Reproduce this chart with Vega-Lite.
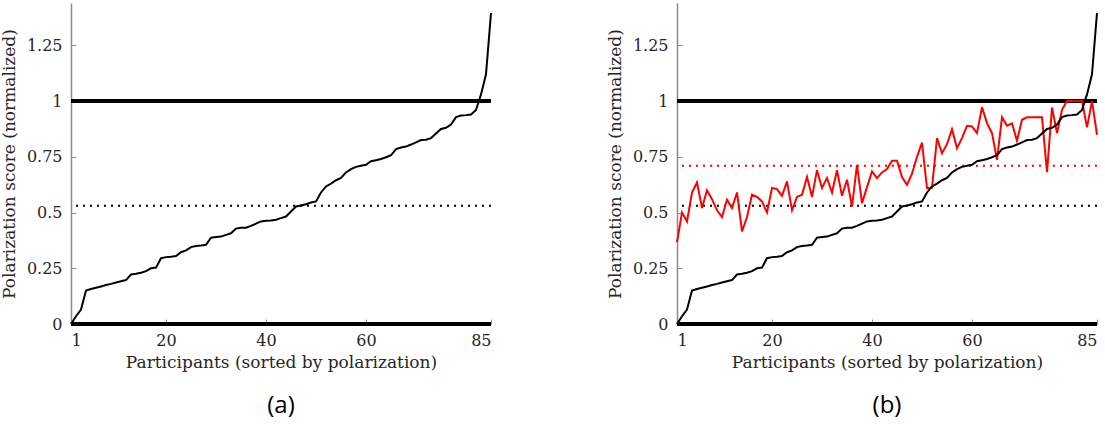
{
  "$schema": "https://vega.github.io/schema/vega-lite/v6.json",
  "padding": {"left": 0, "top": 3, "right": 5, "bottom": 4},
  "background": "white",
  "bounds": "flush",
  "spacing": 186,
  "datasets": {
    "black": [
      {"p":1,"v":0},{"p":2,"v":0.035},{"p":3,"v":0.065},{"p":4,"v":0.15},{"p":5,"v":0.157},
      {"p":6,"v":0.163},{"p":7,"v":0.168},{"p":8,"v":0.175},{"p":9,"v":0.18},{"p":10,"v":0.186},
      {"p":11,"v":0.192},{"p":12,"v":0.197},{"p":13,"v":0.222},{"p":14,"v":0.225},{"p":15,"v":0.23},
      {"p":16,"v":0.237},{"p":17,"v":0.25},{"p":18,"v":0.253},{"p":19,"v":0.295},{"p":20,"v":0.3},
      {"p":21,"v":0.302},{"p":22,"v":0.305},{"p":23,"v":0.322},{"p":24,"v":0.33},{"p":25,"v":0.345},
      {"p":26,"v":0.35},{"p":27,"v":0.352},{"p":28,"v":0.355},{"p":29,"v":0.387},{"p":30,"v":0.39},
      {"p":31,"v":0.392},{"p":32,"v":0.4},{"p":33,"v":0.407},{"p":34,"v":0.428},{"p":35,"v":0.432},
      {"p":36,"v":0.432},{"p":37,"v":0.44},{"p":38,"v":0.45},{"p":39,"v":0.46},{"p":40,"v":0.463},
      {"p":41,"v":0.464},{"p":42,"v":0.468},{"p":43,"v":0.475},{"p":44,"v":0.482},{"p":45,"v":0.505},
      {"p":46,"v":0.527},{"p":47,"v":0.532},{"p":48,"v":0.537},{"p":49,"v":0.545},{"p":50,"v":0.55},
      {"p":51,"v":0.59},{"p":52,"v":0.617},{"p":53,"v":0.63},{"p":54,"v":0.645},{"p":55,"v":0.655},
      {"p":56,"v":0.68},{"p":57,"v":0.695},{"p":58,"v":0.705},{"p":59,"v":0.71},{"p":60,"v":0.714},
      {"p":61,"v":0.73},{"p":62,"v":0.735},{"p":63,"v":0.74},{"p":64,"v":0.748},{"p":65,"v":0.757},
      {"p":66,"v":0.785},{"p":67,"v":0.792},{"p":68,"v":0.796},{"p":69,"v":0.805},{"p":70,"v":0.815},
      {"p":71,"v":0.825},{"p":72,"v":0.827},{"p":73,"v":0.834},{"p":74,"v":0.855},{"p":75,"v":0.875},
      {"p":76,"v":0.88},{"p":77,"v":0.895},{"p":78,"v":0.928},{"p":79,"v":0.935},{"p":80,"v":0.937},
      {"p":81,"v":0.94},{"p":82,"v":0.96},{"p":83,"v":1.03},{"p":84,"v":1.12},{"p":85,"v":1.395}
    ],
    "red": [
      {"p":1,"v":0.367},{"p":2,"v":0.5},{"p":3,"v":0.46},{"p":4,"v":0.59},{"p":5,"v":0.635},
      {"p":6,"v":0.52},{"p":7,"v":0.6},{"p":8,"v":0.56},{"p":9,"v":0.51},{"p":10,"v":0.48},
      {"p":11,"v":0.557},{"p":12,"v":0.52},{"p":13,"v":0.59},{"p":14,"v":0.415},{"p":15,"v":0.48},
      {"p":16,"v":0.58},{"p":17,"v":0.57},{"p":18,"v":0.55},{"p":19,"v":0.5},{"p":20,"v":0.61},
      {"p":21,"v":0.605},{"p":22,"v":0.575},{"p":23,"v":0.64},{"p":24,"v":0.51},{"p":25,"v":0.57},
      {"p":26,"v":0.58},{"p":27,"v":0.66},{"p":28,"v":0.57},{"p":29,"v":0.69},{"p":30,"v":0.61},
      {"p":31,"v":0.655},{"p":32,"v":0.59},{"p":33,"v":0.69},{"p":34,"v":0.575},{"p":35,"v":0.647},
      {"p":36,"v":0.527},{"p":37,"v":0.714},{"p":38,"v":0.542},{"p":39,"v":0.614},{"p":40,"v":0.684},
      {"p":41,"v":0.654},{"p":42,"v":0.68},{"p":43,"v":0.695},{"p":44,"v":0.732},{"p":45,"v":0.732},
      {"p":46,"v":0.659},{"p":47,"v":0.624},{"p":48,"v":0.674},{"p":49,"v":0.75},{"p":50,"v":0.814},
      {"p":51,"v":0.609},{"p":52,"v":0.612},{"p":53,"v":0.834},{"p":54,"v":0.766},{"p":55,"v":0.807},
      {"p":56,"v":0.874},{"p":57,"v":0.789},{"p":58,"v":0.834},{"p":59,"v":0.889},{"p":60,"v":0.886},
      {"p":61,"v":0.856},{"p":62,"v":0.973},{"p":63,"v":0.901},{"p":64,"v":0.856},{"p":65,"v":0.736},
      {"p":66,"v":0.927},{"p":67,"v":0.89},{"p":68,"v":0.9},{"p":69,"v":0.822},{"p":70,"v":0.916},
      {"p":71,"v":0.927},{"p":72,"v":0.927},{"p":73,"v":0.927},{"p":74,"v":0.927},{"p":75,"v":0.681},
      {"p":76,"v":0.971},{"p":77,"v":0.856},{"p":78,"v":0.961},{"p":79,"v":1.0},{"p":80,"v":1.0},
      {"p":81,"v":1.0},{"p":82,"v":1.0},{"p":83,"v":0.882},{"p":84,"v":1.0},{"p":85,"v":0.849}
    ]
  },
  "hconcat": [
    {
      "width": 420,
      "height": 321,
      "title": {"text": "(a)", "orient": "bottom", "font": "Open Sans", "fontSize": 24, "fontWeight": "normal", "color": "#000000", "offset": 24},
      "layer": [
        {
          "data": {"values": [{"y": 0}, {"y": 1}]},
          "mark": {"type": "rule", "color": "#000000", "strokeWidth": 4},
          "encoding": {"y": {"field": "y", "type": "quantitative"}}
        },
        {
          "data": {"values": [{"y": 0.53}]},
          "mark": {"type": "rule", "color": "#000000", "strokeWidth": 2, "strokeDash": [2, 5]},
          "encoding": {"y": {"field": "y", "type": "quantitative"}}
        },
        {
          "data": {"name": "black"},
          "mark": {"type": "line", "color": "#000000", "strokeWidth": 2},
          "encoding": {
            "x": {"field": "p", "type": "quantitative", "scale": {"domain": [1, 85], "nice": false, "zero": false},
                  "axis": {"values": [1, 20, 40, 60, 85], "format": "d", "title": "Participants (sorted by polarization)", "labelPadding": 13, "titlePadding": 6}},
            "y": {"field": "v", "type": "quantitative", "scale": {"domain": [0, 1.44], "nice": false},
                  "axis": {"values": [0, 0.25, 0.5, 0.75, 1, 1.25], "format": ".3~g", "title": "Polarization score (normalized)", "labelPadding": 14, "titlePadding": 8}}
          }
        }
      ]
    },
    {
      "width": 420,
      "height": 321,
      "title": {"text": "(b)", "orient": "bottom", "font": "Open Sans", "fontSize": 24, "fontWeight": "normal", "color": "#000000", "offset": 24},
      "layer": [
        {
          "data": {"values": [{"y": 0}, {"y": 1}]},
          "mark": {"type": "rule", "color": "#000000", "strokeWidth": 4},
          "encoding": {"y": {"field": "y", "type": "quantitative"}}
        },
        {
          "data": {"values": [{"y": 0.53}]},
          "mark": {"type": "rule", "color": "#000000", "strokeWidth": 2, "strokeDash": [2, 5]},
          "encoding": {"y": {"field": "y", "type": "quantitative"}}
        },
        {
          "data": {"values": [{"y": 0.71}]},
          "mark": {"type": "rule", "color": "#ff0000", "strokeWidth": 2, "strokeDash": [2, 5]},
          "encoding": {"y": {"field": "y", "type": "quantitative"}}
        },
        {
          "data": {"name": "red"},
          "mark": {"type": "line", "color": "#ff0000", "strokeWidth": 2},
          "encoding": {
            "x": {"field": "p", "type": "quantitative", "scale": {"domain": [1, 85], "nice": false, "zero": false}},
            "y": {"field": "v", "type": "quantitative", "scale": {"domain": [0, 1.44], "nice": false}}
          }
        },
        {
          "data": {"name": "black"},
          "mark": {"type": "line", "color": "#000000", "strokeWidth": 2},
          "encoding": {
            "x": {"field": "p", "type": "quantitative", "scale": {"domain": [1, 85], "nice": false, "zero": false},
                  "axis": {"values": [1, 20, 40, 60, 85], "format": "d", "title": "Participants (sorted by polarization)", "labelPadding": 13, "titlePadding": 6}},
            "y": {"field": "v", "type": "quantitative", "scale": {"domain": [0, 1.44], "nice": false},
                  "axis": {"values": [0, 0.25, 0.5, 0.75, 1, 1.25], "format": ".3~g", "title": "Polarization score (normalized)", "labelPadding": 14, "titlePadding": 8}}
          }
        }
      ]
    }
  ],
  "config": {
    "view": {"stroke": null},
    "axis": {
      "grid": false,
      "domainColor": "#8c8c8c",
      "domainWidth": 1.5,
      "tickColor": "#8c8c8c",
      "tickWidth": 1,
      "tickSize": -5,
      "labelFont": "'DejaVu Serif', 'Liberation Serif', serif",
      "labelFontSize": 16,
      "labelColor": "#262626",
      "titleFont": "'DejaVu Serif', 'Liberation Serif', serif",
      "titleFontSize": 17,
      "titleFontWeight": "normal",
      "titleColor": "#262626"
    }
  }
}
